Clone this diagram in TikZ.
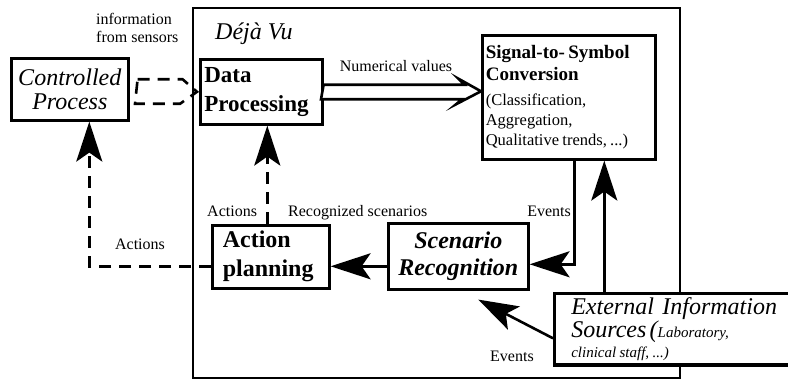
\documentclass[tikz,border=0pt]{standalone}
\usepackage{fontspec}
\setmainfont{Liberation Serif}
\usetikzlibrary{arrows.meta}
\begin{document}
\begin{tikzpicture}[x=1pt,y=-1pt,
  box/.style={draw, line width=2.6pt, inner sep=0pt, anchor=north west, fill=white},
  bigtip/.style={-{Stealth[length=40pt,width=26pt,inset=9pt]}, line width=2.6pt},
  dsh/.style={dash pattern=on 12pt off 8pt, line width=2.6pt},
  lab/.style={font=\fontsize{16}{18}\selectfont, inner sep=0pt},
  hollow/.style={line width=2.6pt, fill=white, line join=miter}]
\useasboundingbox (0,0) rectangle (788,379);
% Deja Vu frame
\node[box, line width=2.2pt, minimum width=487pt, minimum height=370pt] (dv) at (192,7) {};
\node[lab, anchor=base west, font=\itshape\fontsize{24}{28}\selectfont] (dvt) at (215,40) {Déjà Vu};
% boxes
\node[box, minimum width=117pt, minimum height=62pt, align=center,
  font=\itshape\fontsize{24}{24}\selectfont] (cp) at (10,57) {Controlled\\Process};
\node[box, minimum width=122pt, minimum height=65pt, text width=114pt, align=left,
  font=\bfseries\fontsize{23}{29}\selectfont] (dp) at (199,58) {Data\\Processing};
\node[box, minimum width=173pt, minimum height=124pt, text width=166pt, align=left] (ss) at (481,34)
  {{\bfseries\fontsize{19}{22}\selectfont Signal-to- Symbol\\Conversion\par}\vspace{5pt}%
   {\fontsize{16.5}{20}\selectfont (Classification,\\Aggregation,\\Qualitative trends, ...)\par}};
\node[box, minimum width=117pt, minimum height=63pt, text width=96pt, align=left,
  font=\bfseries\fontsize{24}{29}\selectfont] (ap) at (211,224) {Action\\planning};
\node[box, minimum width=140pt, minimum height=66pt, align=center,
  font=\bfseries\itshape\fontsize{24}{27}\selectfont] (sr) at (387,222) {Scenario\\Recognition};
\node[box, minimum width=250pt, minimum height=71pt, text width=216pt, align=left] (ex) at (553,292)
  {{\itshape\fontsize{24}{28}\selectfont External\hspace{0.35em}Information\\Sources (\fontsize{15}{18}\selectfont Laboratory,\par}%
   {\itshape\fontsize{15}{20}\selectfont clinical staff, ...)\par}};
\draw[line width=2.6pt] (ex.south west) -- (ex.south east);
% labels
\node[lab, anchor=north west, align=left] (info) at (96,13) {information\\from sensors};
\node[lab, anchor=base] (nv) at (396,72) {Numerical values};
\node[lab, anchor=base] (act1) at (140,250) {Actions};
\node[lab, anchor=base west] (act2) at (207,217) {Actions};
\node[lab, anchor=base west] (rs) at (288,217) {Recognized scenarios};
\node[lab, anchor=base east] (ev1) at (571,217) {Events};
\node[lab, anchor=base west] (ev2) at (490,362) {Events};
% connectors
\draw[dsh] ([xshift=8pt,yshift=10pt]cp.east) -- ++(45,0) -- ([xshift=-2pt]dp.west) -- ++(-17,12) -- ++(-45,0) -- cycle;
\draw[hollow] ([yshift=7pt]dp.east) -- ++(141,0) -- ++(-6,-6) -- ([yshift=6pt]ss.west) -- ++(-25,13) -- ++(6,-5) -- ++(-141,0) -- cycle;
\draw[bigtip] ([xshift=5.5pt]ss.south) |- ([yshift=-8pt]sr.east);
\draw[bigtip] ([xshift=-75pt]ex.north) -- ([xshift=-75pt]ex.north |- ss.south);
\draw[bigtip] ([yshift=-9.5pt]ex.west) -- ([xshift=20pt,yshift=-9pt]sr.south);
\draw[bigtip] ([yshift=-10pt]sr.west) -- ([yshift=-10pt]ap.east |- sr.west);
\draw[dsh, -{Stealth[length=40pt,width=26pt,inset=9pt]}] ([yshift=-9.5pt]ap.west) -| ([xshift=19.5pt]cp.south);
\draw[dsh, -{Stealth[length=40pt,width=26pt,inset=9pt]}] ([xshift=-3.5pt]ap.north) -- ([xshift=-3.5pt]ap.north |- dp.south);
\end{tikzpicture}
\end{document}
